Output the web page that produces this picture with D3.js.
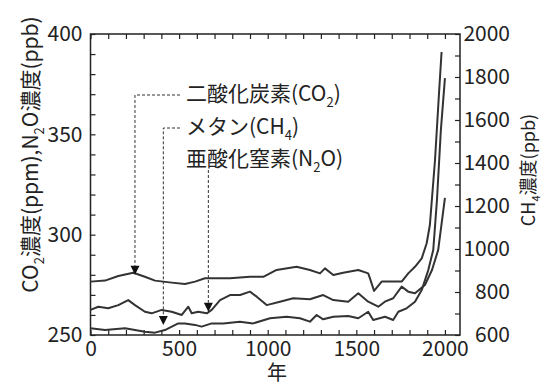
<!DOCTYPE html>
<html>
<head>
<meta charset="utf-8">
<script src="https://cdn.jsdelivr.net/npm/d3@7"></script>
<style>
  body { margin: 0; background: #fff; }
  text { font-family: "Noto Sans CJK JP", "Noto Sans", sans-serif; fill: #222; }
</style>
</head>
<body>
<div id="chart"></div>
<script>
// DATA (year, value)
const co2 = [[0,276.6],[82,277.1],[157,279.4],[241,281.0],[307,279.0],[364,277.1],[458,276.1],[533,275.4],[590,276.6],[646,278.3],[731,278.3],[787,278.3],[900,279.0],[975,279.0],[1050,282.4],[1163,284.0],[1238,282.4],[1295,280.7],[1323,283.2],[1370,279.9],[1426,281.0],[1511,282.4],[1567,280.7],[1577,278.2],[1600,272.0],[1643,276.6],[1756,276.6],[1793,280.7],[1831,284.0],[1869,288.2],[1897,295.7],[1915,304.8],[1944,337.2],[1966,369.6],[1981,391.0]];
const n2o = [[0,262.5],[44,264.1],[100,263.3],[157,264.9],[213,267.4],[251,264.9],[307,261.6],[345,260.8],[402,262.5],[458,261.6],[515,260.0],[552,264.1],[571,260.8],[608,261.6],[656,260.8],[684,262.5],[731,267.4],[787,269.9],[844,269.9],[900,271.6],[938,269.1],[994,264.9],[1069,266.6],[1144,268.3],[1238,267.8],[1313,269.9],[1370,267.4],[1454,266.6],[1511,270.8],[1567,266.6],[1624,264.1],[1661,266.6],[1708,268.3],[1756,274.1],[1793,271.6],[1831,270.8],[1887,274.9],[1927,282.4],[1962,292.4],[2000,318.3]];
const ch4 = [[0,631],[82,623],[195,631],[307,615],[364,611],[420,623],[495,654],[533,654],[590,647],[627,639],[684,654],[749,654],[843,662],[918,654],[1013,678],[1107,685],[1182,678],[1238,662],[1276,693],[1313,673],[1370,685],[1454,688],[1511,678],[1567,708],[1595,670],[1662,685],[1708,670],[1737,708],[1784,724],[1831,755],[1869,809],[1906,902],[1934,995],[1955,1228],[1977,1553],[2000,1795]];

const xTickLabels = [0, 500, 1000, 1500, 2000];
const leftTickLabels = [250, 300, 350, 400];
const rightTickLabels = [600, 800, 1000, 1200, 1400, 1600, 1800, 2000];

// annotations: label, arrow year, arrow value, which axis
const annoLabels = ["二酸化炭素(CO_2)", "メタン(CH_4)", "亜酸化窒素(N_2O)"];
const annoYears = [251, 411, 665];
const annoValues = [280.0, 647, 261.6];
const annoAxis = ["left", "right", "left"];

const leftTitle = "CO_2濃度(ppm),N_2O濃度(ppb)";
const rightTitle = "CH_4濃度(ppb)";
const xTitle = "年";

// SVG
const W = 550, H = 385;
const svg = d3.select("#chart").append("svg")
  .attr("width", W).attr("height", H);
svg.append("rect").attr("width", W).attr("height", H).attr("fill", "#fff");

const plot = {left: 90.5, right: 460, top: 34, bottom: 335};

// SCALES
const xs = d3.scaleLinear().domain([0, 2085]).range([plot.left, plot.right]);
const yl = d3.scaleLinear().domain([250, 400]).range([plot.bottom, plot.top]);
const yr = d3.scaleLinear().domain([600, 2000]).range([plot.bottom, plot.top]);

// text with "_x" subscripts
function rich(sel, str, fs) {
  const parts = str.split(/_(\d)/).filter(p => p !== "");
  const isSub = str.split(/_(\d)/).map((p, i) => i % 2 === 1).filter((b, i) => str.split(/_(\d)/)[i] !== "");
  let shifted = false;
  parts.forEach((p, i) => {
    const t = sel.append("tspan").text(p);
    if (isSub[i]) {
      t.attr("font-size", fs * 0.62).attr("dy", fs * 0.28);
      shifted = true;
    } else {
      t.attr("font-size", fs);
      if (shifted) { t.attr("dy", -fs * 0.28); shifted = false; }
    }
  });
}

// AXES (ticks inward)
const fs = 21;
const xAx = svg.append("g").attr("transform", `translate(0,${plot.bottom})`)
  .call(d3.axisBottom(xs).tickValues(d3.range(0, 2001, 100)).tickSize(-5).tickPadding(6)
    .tickFormat(d => xTickLabels.includes(d) ? d : ""));
const xTop = svg.append("g").attr("transform", `translate(0,${plot.top})`)
  .call(d3.axisTop(xs).tickValues(d3.range(0, 2001, 100)).tickSize(-5).tickFormat(""));
const lAx = svg.append("g").attr("transform", `translate(${plot.left},0)`)
  .call(d3.axisLeft(yl).tickValues(d3.range(250, 401, 10)).tickSize(-5).tickPadding(8)
    .tickFormat(d => leftTickLabels.includes(d) ? d : ""));
const rAx = svg.append("g").attr("transform", `translate(${plot.right},0)`)
  .call(d3.axisRight(yr).tickValues(d3.range(600, 2001, 100)).tickSize(-5)
    .tickFormat(d => rightTickLabels.includes(d) ? d : ""));

[xAx, xTop, lAx, rAx].forEach(g => {
  g.select(".domain").remove();
  g.selectAll("line").attr("stroke", "#222").attr("stroke-width", 1.2);
  g.selectAll("text").filter(function() { return this.textContent === ""; }).remove();
  g.selectAll("text").attr("font-size", fs).attr("font-family", null).style("fill", "#222");
});
rAx.selectAll("text").attr("text-anchor", "end").attr("x", 50);

// frame
svg.append("rect")
  .attr("x", plot.left).attr("y", plot.top)
  .attr("width", plot.right - plot.left).attr("height", plot.bottom - plot.top)
  .attr("fill", "none").attr("stroke", "#222").attr("stroke-width", 1.5);

// axis titles
rich(svg.append("text")
  .attr("transform", `translate(38,${(plot.top + plot.bottom) / 2 - 30}) rotate(-90)`)
  .attr("text-anchor", "middle"), leftTitle, 21);
rich(svg.append("text")
  .attr("transform", `translate(535,170) rotate(-90)`)
  .attr("text-anchor", "middle"), rightTitle, 18);
svg.append("text").attr("x", 277).attr("y", 380)
  .attr("text-anchor", "middle").attr("font-size", 20).text(xTitle);

// DRAW LINES
const lineL = d3.line().x(d => xs(d[0])).y(d => yl(d[1]));
const lineR = d3.line().x(d => xs(d[0])).y(d => yr(d[1]));
[[co2, lineL], [n2o, lineL], [ch4, lineR]].forEach(([data, gen]) => {
  svg.append("path").datum(data)
    .attr("fill", "none").attr("stroke", "#333").attr("stroke-width", 2)
    .attr("stroke-linejoin", "round")
    .attr("d", gen);
});

// ANNOTATIONS
const labelBase = [101, 134, 166];
const labelX = 186;
annoLabels.forEach((lab, i) => {
  const ys = annoAxis[i] === "left" ? yl : yr;
  const ax = xs(annoYears[i]);
  const tip = ys(annoValues[i]);
  const top = tip - 9;
  const startY = i < 2 ? labelBase[i] - 6 : labelBase[i] + 4;
  const dash = svg.append("path")
    .attr("fill", "none").attr("stroke", "#333").attr("stroke-width", 1)
    .attr("stroke-dasharray", "3,2");
  if (i < 2) dash.attr("d", `M${labelX - 6},${startY}H${ax}V${top}`);
  else dash.attr("d", `M${ax},${startY}V${top}`);
  svg.append("path")
    .attr("d", `M${ax - 4.5},${top}L${ax + 4.5},${top}L${ax},${tip}Z`)
    .attr("fill", "#111");
  rich(svg.append("text").attr("x", labelX).attr("y", labelBase[i]), lab, 21);
});
</script>
</body>
</html>
